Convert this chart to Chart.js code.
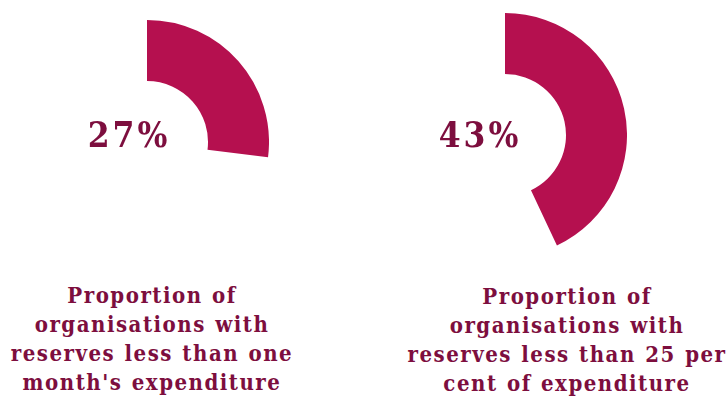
<!DOCTYPE html>
<html>
<head>
<meta charset="utf-8">
<script src="https://cdn.jsdelivr.net/npm/chart.js@4/dist/chart.umd.min.js"></script>
<style>
    body { margin: 0; background: #fff; }
    #stage { position: relative; width: 728px; height: 401px; overflow: hidden; }
    .ring { position: absolute; width: 244px; height: 244px; }
    .pct {
        position: absolute; width: 120px; text-align: center;
        font-family: 'DejaVu Serif Condensed', 'DejaVu Serif', serif; font-weight: bold; font-size: 35px;
        letter-spacing: 3px; color: #7D0E3E; line-height: 40px;
    }
    .label {
        position: absolute; width: 340px; text-align: center;
        font-family: 'DejaVu Serif Condensed', 'DejaVu Serif', serif; font-weight: bold; font-size: 22px;
        letter-spacing: 1.5px; word-spacing: 1px; color: #7D0E3E; line-height: 29px;
    }
</style>
</head>
<body>
<div id="stage">
    <div class="ring" style="left:25px; top:20px;"><canvas id="ringLeft"></canvas></div>
    <div class="ring" style="left:383px; top:13px;"><canvas id="ringRight"></canvas></div>
    <div class="pct" id="pctLeft" style="left:69px; top:115px;"></div>
    <div class="pct" id="pctRight" style="left:420px; top:115px;"></div>
    <div class="label" id="labelLeft" style="left:-18px; top:281px;"></div>
    <div class="label" id="labelRight" style="left:397px; top:282px;"></div>
</div>
<script>
// values
const shares = [27, 43];
const captions = [
    ['Proportion of', 'organisations with', 'reserves less than one', "month's expenditure"],
    ['Proportion of', 'organisations with', 'reserves less than 25 per', 'cent of expenditure']
];

const ringColor = '#B5104F';

function drawRing(id, value) {
    new Chart(document.getElementById(id), {
        type: 'doughnut',
        data: {
            labels: ['share', 'rest'],
            datasets: [{
                data: [value, 100 - value],
                backgroundColor: [ringColor, 'rgba(0,0,0,0)'],
                borderWidth: 0,
                hoverOffset: 0
            }]
        },
        options: {
            responsive: true,
            maintainAspectRatio: false,
            animation: false,
            cutout: '50%',
            layout: { padding: 0 },
            plugins: { legend: { display: false }, tooltip: { enabled: false } }
        }
    });
}

drawRing('ringLeft', shares[0]);
drawRing('ringRight', shares[1]);

document.getElementById('pctLeft').textContent = shares[0] + '%';
document.getElementById('pctRight').textContent = shares[1] + '%';
document.getElementById('labelLeft').innerHTML = captions[0].join('<br>');
document.getElementById('labelRight').innerHTML = captions[1].join('<br>');
</script>
</body>
</html>
